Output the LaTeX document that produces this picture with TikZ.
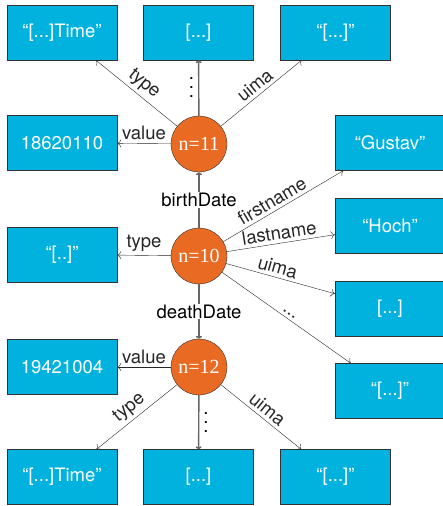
\documentclass[tikz,border=0pt]{standalone}
\usepackage{fontspec}
\setmainfont{TeX Gyre Heros}
\newfontfamily\numfont{Liberation Serif}
\usepackage{xcolor}
\usetikzlibrary{arrows.meta}
\definecolor{boxblue}{RGB}{2,178,222}
\definecolor{nodeorange}{RGB}{233,106,35}
\tikzstyle{every node}=[font=\fontsize{18.5}{21}\selectfont]
\tikzstyle{block} = [rectangle, draw=black!80, fill=boxblue, text=white, minimum width=110pt, minimum height=55pt]
\tikzstyle{entity} = [circle, draw=black!80, fill=nodeorange, text=white, minimum size=56pt, inner sep=0pt, font=\numfont\fontsize{20}{22}\selectfont]
\tikzstyle{line} = [draw, -{To[length=4pt,width=8pt]}, black!85]
\tikzstyle{link} = [draw, -{To[length=3pt,width=6pt]}, gray!80!black, line width=1.4pt]
\tikzstyle{lbl} = [fill=white, inner sep=1pt, text=black]
\tikzstyle{dots} = [text=black, inner sep=4pt, align=center, font=\fontsize{18.5}{9}\selectfont]

\begin{document}
\begin{tikzpicture}[x=1pt,y=-1pt]
    \useasboundingbox (0,0) rectangle (442,506);
    % Place nodes
    \node [entity] (n11) at (199,144) {n=11};
    \node [entity] (n10) at (199,256) {n=10};
    \node [entity] (n12) at (199,367) {n=12};
    \node [block] (time11) at (62,32.5) {``[...]Time''};
    \node [block] (more11) at (198.5,32.5) {[...]};
    \node [block] (uima11) at (335.5,32.5) {``[...]''};
    \node [block] (val11) at (62,143) {18620110};
    \node [block] (first) at (390,143) {``Gustav''};
    \node [block] (last) at (390,226) {``Hoch''};
    \node [block] (type10) at (62,254.5) {``[..]''};
    \node [block] (uima10) at (390,309) {[...]};
    \node [block] (more10) at (390,391) {``[...]''};
    \node [block] (val12) at (62,367) {19421004};
    \node [block] (time12) at (62,477) {``[...]Time''};
    \node [block] (more12) at (198.5,477) {[...]};
    \node [block] (uima12) at (335.5,477) {``[...]''};
    % Draw edges
    \path [line] (n11) -- node[above, sloped] {type} (time11);
    \path [link] (n11) -- node[dots, left] {.\\.\\.} (more11);
    \path [line] (n11) -- node[above, sloped] {uima} (uima11);
    \path [line] (n11) -- node[above] {value} (val11);
    \path [link] (n10) -- node[lbl] {birthDate} (n11);
    \path [line] (n10) -- node[above, sloped, pos=0.45] {firstname} (first);
    \path [line] (n10) -- node[above, sloped, pos=0.5] {lastname} (last);
    \path [line] (n10) -- node[above, sloped, pos=0.45] {uima} (uima10);
    \path [line] (n10) -- node[above, sloped, pos=0.5] {...} (more10);
    \path [line] (n10) -- node[above] {type} (type10);
    \path [link] (n10) -- node[lbl] {deathDate} (n12);
    \path [line] (n12) -- node[above] {value} (val12);
    \path [line] (n12) -- node[above, sloped] {type} (time12);
    \path [link] (n12) -- node[dots, right] {.\\.\\.} (more12);
    \path [line] (n12) -- node[above, sloped] {uima} (uima12);
\end{tikzpicture}
\end{document}
